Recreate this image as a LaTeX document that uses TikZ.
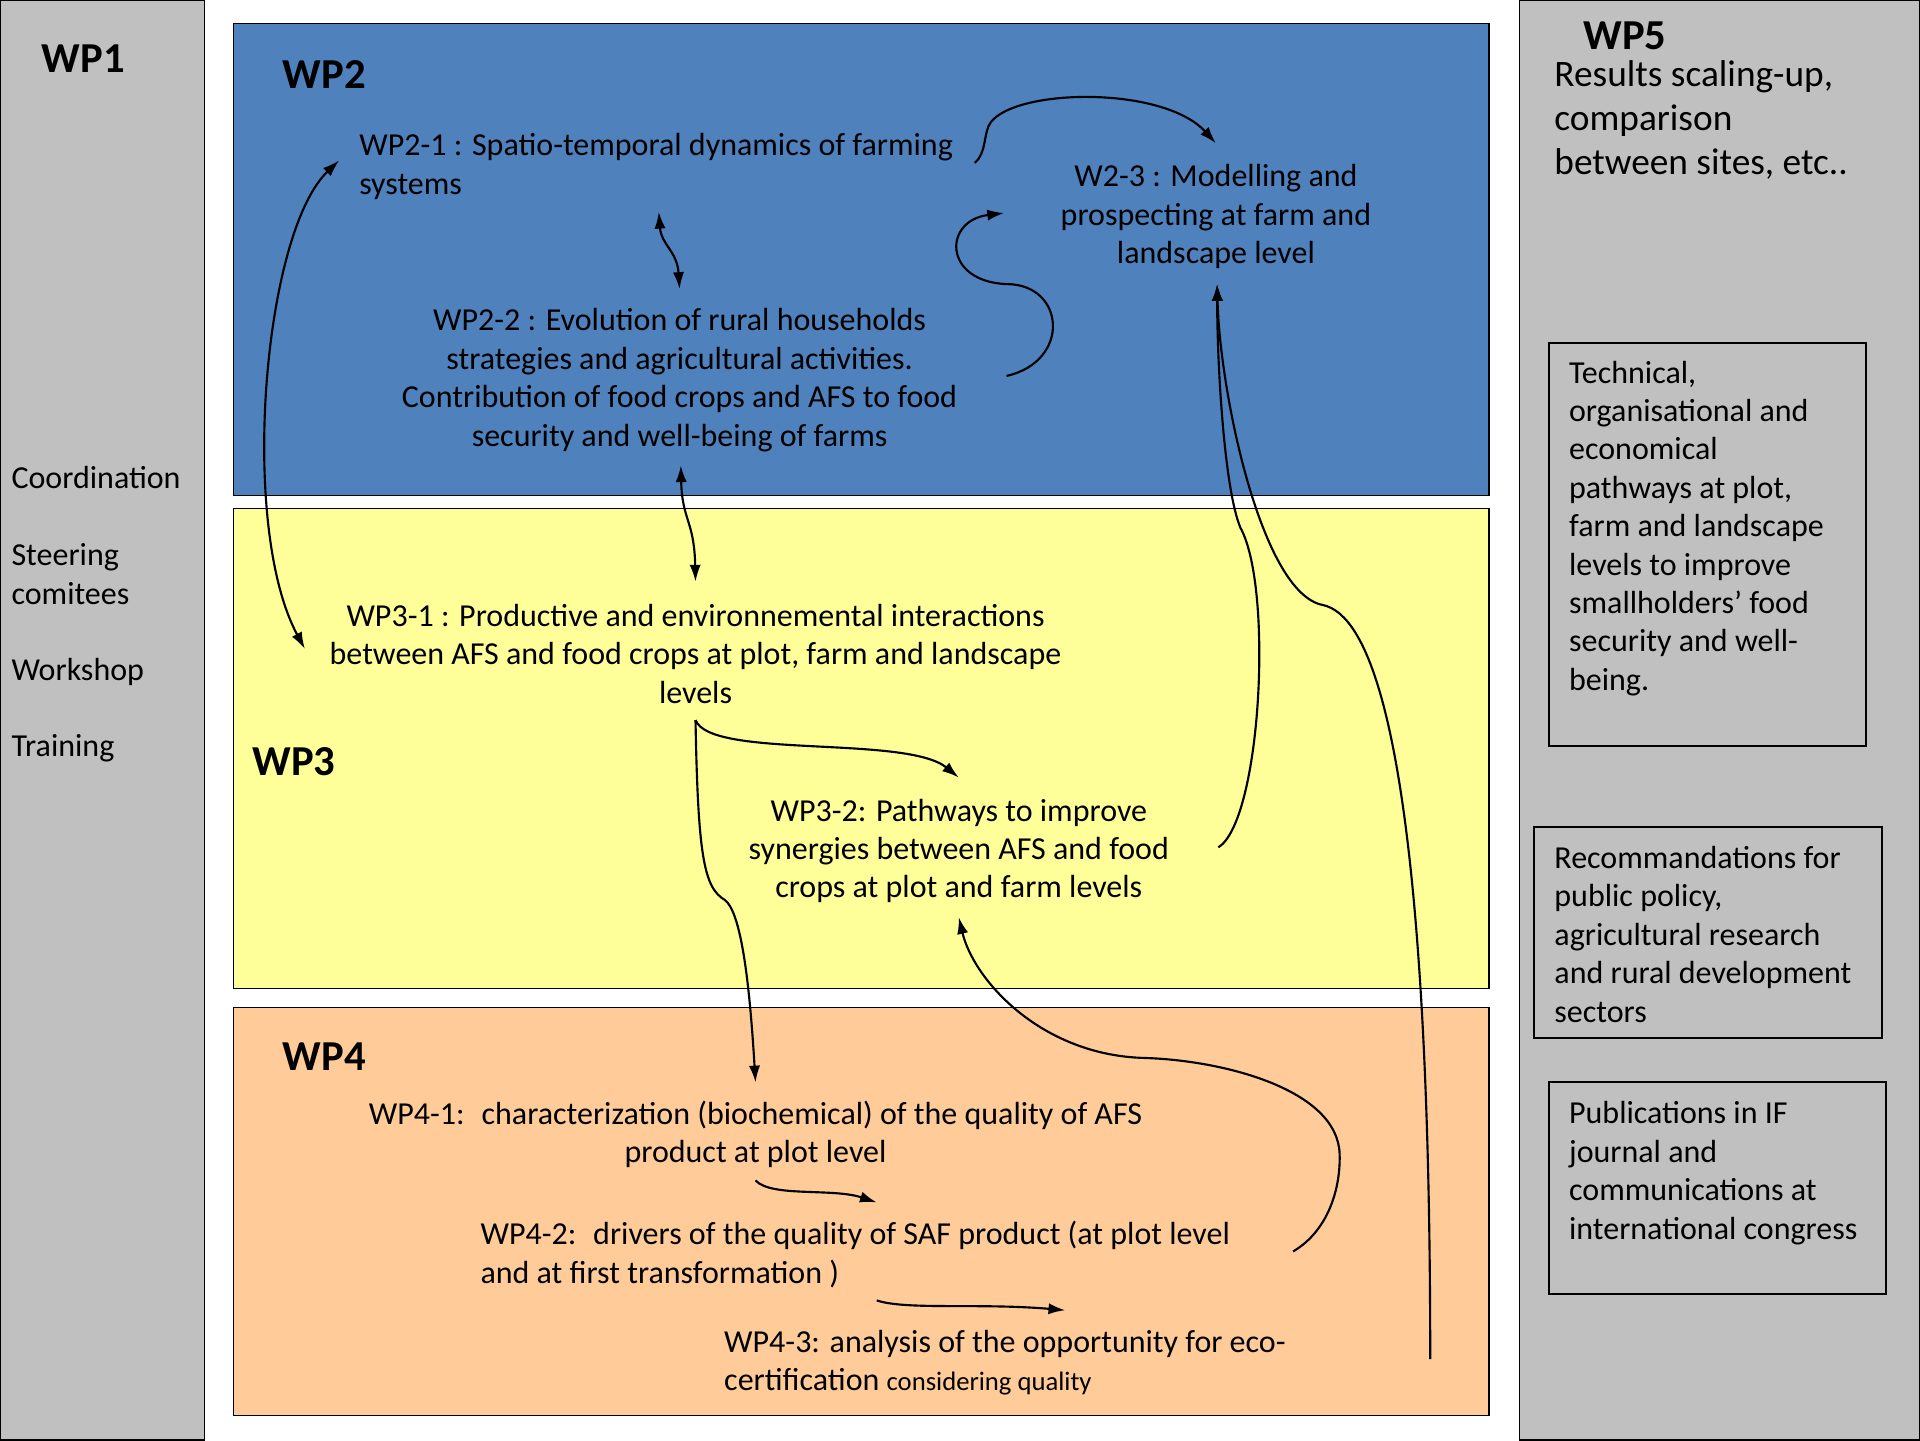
\documentclass[tikz,border=0pt]{standalone}
\usepackage{fontspec}
\setmainfont{Carlito}
\usetikzlibrary{arrows.meta}
\definecolor{panelgray}{RGB}{192,192,192}
\definecolor{wpblue}{RGB}{79,129,189}
\definecolor{wpyellow}{RGB}{255,255,153}
\definecolor{wppeach}{RGB}{255,204,153}
\begin{document}
\begin{tikzpicture}[x=0.4592pt,y=-0.4592pt,
	>={Latex[length=6.3pt,width=4.2pt]},
	txt/.style={font=\fontsize{12}{14.4}\selectfont,inner sep=0pt,align=center},
	wplabel/.style={font=\fontsize{16}{19}\selectfont\bfseries,inner sep=0pt},
	link/.style={line width=0.8pt,->},
	twoway/.style={line width=0.8pt,<->}]
	\useasboundingbox (0,0) rectangle (1568,1176);
	% Panels
	\draw [fill=panelgray] (0,0) rectangle (167,1176);
	\draw [fill=wpblue] (191,19) rectangle (1216,405);
	\draw [fill=wpyellow] (191,415) rectangle (1216,807);
	\draw [fill=wppeach] (191,823) rectangle (1216,1156);
	\draw [fill=panelgray] (1241,0) rectangle (1568,1176);
	\draw [line width=0.75pt] (1265,280) rectangle (1524,609);
	\draw [line width=0.75pt] (1253,675) rectangle (1537,848);
	\draw [line width=0.75pt] (1265,884) rectangle (1540,1057);
	% WP1
	\node [wplabel] (wp1) at (68,48) {WP1};
	\node [txt,anchor=west] (coord) at (9,390) {Coordination};
	\node [txt,anchor=west,align=left] (steer) at (9,469) {Steering\\comitees};
	\node [txt,anchor=west] (work) at (9,549) {Workshop};
	\node [txt,anchor=west] (train) at (9,611) {Training};
	% WP2
	\node [wplabel] (wp2) at (265,61) {WP2};
	\node [txt,anchor=west,align=left] (wp21) at (293,136) {WP2-1 : Spatio-temporal dynamics of farming\\systems};
	\node [txt] (wp22) at (555,310.5) {WP2-2 : Evolution of rural households\\strategies and agricultural activities.\\Contribution of food crops and AFS to food\\security and well-being of farms};
	\node [txt] (wp23) at (993,177) {W2-3 : Modelling and\\prospecting at farm and\\landscape level};
	% WP3
	\node [wplabel] (wp3) at (240,622) {WP3};
	\node [txt] (wp31) at (568,534) {WP3-1 : Productive and environnemental interactions\\between AFS and food crops at plot, farm and landscape\\levels};
	\node [txt] (wp32) at (783,695) {WP3-2: Pathways to improve\\synergies between AFS and food\\crops at plot and farm levels};
	% WP4
	\node [wplabel] (wp4) at (265,863) {WP4};
	\node [txt] (wp41) at (617,926.5) {WP4-1:~ characterization (biochemical) of the quality of AFS\\product at plot level};
	\node [txt,anchor=west,align=left] (wp42) at (392,1024.5) {WP4-2:~ drivers of the quality of SAF product (at plot level\\and at first transformation )};
	\node [txt,anchor=west,align=left] (wp43) at (591,1113) {WP4-3: analysis of the opportunity for eco-\\certification {\fontsize{10}{11}\selectfont considering quality}};
	% WP5
	\node [wplabel] (wp5) at (1327,29) {WP5};
	\node [txt,anchor=west,align=left,font=\fontsize{14}{16.5}\selectfont] (scaling) at (1269,98) {Results scaling-up,\\comparison\\between sites, etc..};
	\node [txt,anchor=west,align=left] (pathways) at (1281,431.5) {Technical,\\organisational and\\economical\\pathways at plot,\\farm and landscape\\levels to improve\\smallholders’ food\\security and well-\\being.};
	\node [txt,anchor=west,align=left] (reco) at (1269,763) {Recommandations for\\public policy,\\agricultural research\\and rural development\\sectors};
	\node [txt,anchor=west,align=left] (publi) at (1281,958) {Publications in IF\\journal and\\communications at\\international congress};
	% Connector ends
	\coordinate (a21w) at (277,131);
	\coordinate (a21s) at (538,173);
	\coordinate (a21e) at (796,133);
	\coordinate (a22n) at (555,236);
	\coordinate (a22s) at (556,380);
	\coordinate (a22e) at (822,307);
	\coordinate (a23n) at (993,117);
	\coordinate (a23w) at (820,174);
	\coordinate (a23s) at (994,232);
	\coordinate (a31w) at (249,530);
	\coordinate (a31n) at (568,475);
	\coordinate (a31s) at (568,588);
	\coordinate (a32n) at (783,635);
	\coordinate (a32e) at (995,692);
	\coordinate (a32s) at (783,749);
	\coordinate (a41n) at (617,884);
	\coordinate (a41s) at (617,964);
	\coordinate (a42n) at (716,982);
	\coordinate (a42s) at (716,1062);
	\coordinate (a42e) at (1056,1022);
	\coordinate (a43n) at (870,1070);
	\coordinate (a43e) at (1168,1110);
	% Links
	\draw [twoway] (a21w) .. controls (215,190) and (195,430) .. (a31w);
	\draw [twoway] (a21s) .. controls (540,200) and (553,205) .. (a22n);
	\draw [twoway] (a22s) .. controls (557,425) and (567,425) .. (a31n);
	\draw [link] (a21e) .. controls (806,125) and (803,108) .. (809,100) .. controls (830,72) and (950,70) .. (a23n);
	\draw [link] (a22e) .. controls (875,295) and (870,232) .. (822,232) .. controls (770,230) and (770,180) .. (a23w);
	\draw [link] (a32e) .. controls (1030,670) and (1040,480) .. (1013,431) .. controls (1000,400) and (994,300) .. (a23s);
	\draw [link] (a43e) .. controls (1168,900) and (1160,510) .. (1080,494) .. controls (1030,484) and (996,320) .. (a23s);
	\draw [link] (a31s) .. controls (580,620) and (740,600) .. (a32n);
	\draw [link] (a31s) .. controls (570,700) and (575,725) .. (592,735) .. controls (605,745) and (612,800) .. (a41n);
	\draw [link] (a42e) .. controls (1085,1005) and (1095,970) .. (1094,942) .. controls (1092,890) and (1000,866) .. (935,864) .. controls (850,862) and (795,800) .. (a32s);
	\draw [link] (a41s) .. controls (630,978) and (680,970) .. (a42n);
	\draw [link] (a42s) .. controls (740,1070) and (800,1064) .. (a43n);
\end{tikzpicture}
\end{document}
